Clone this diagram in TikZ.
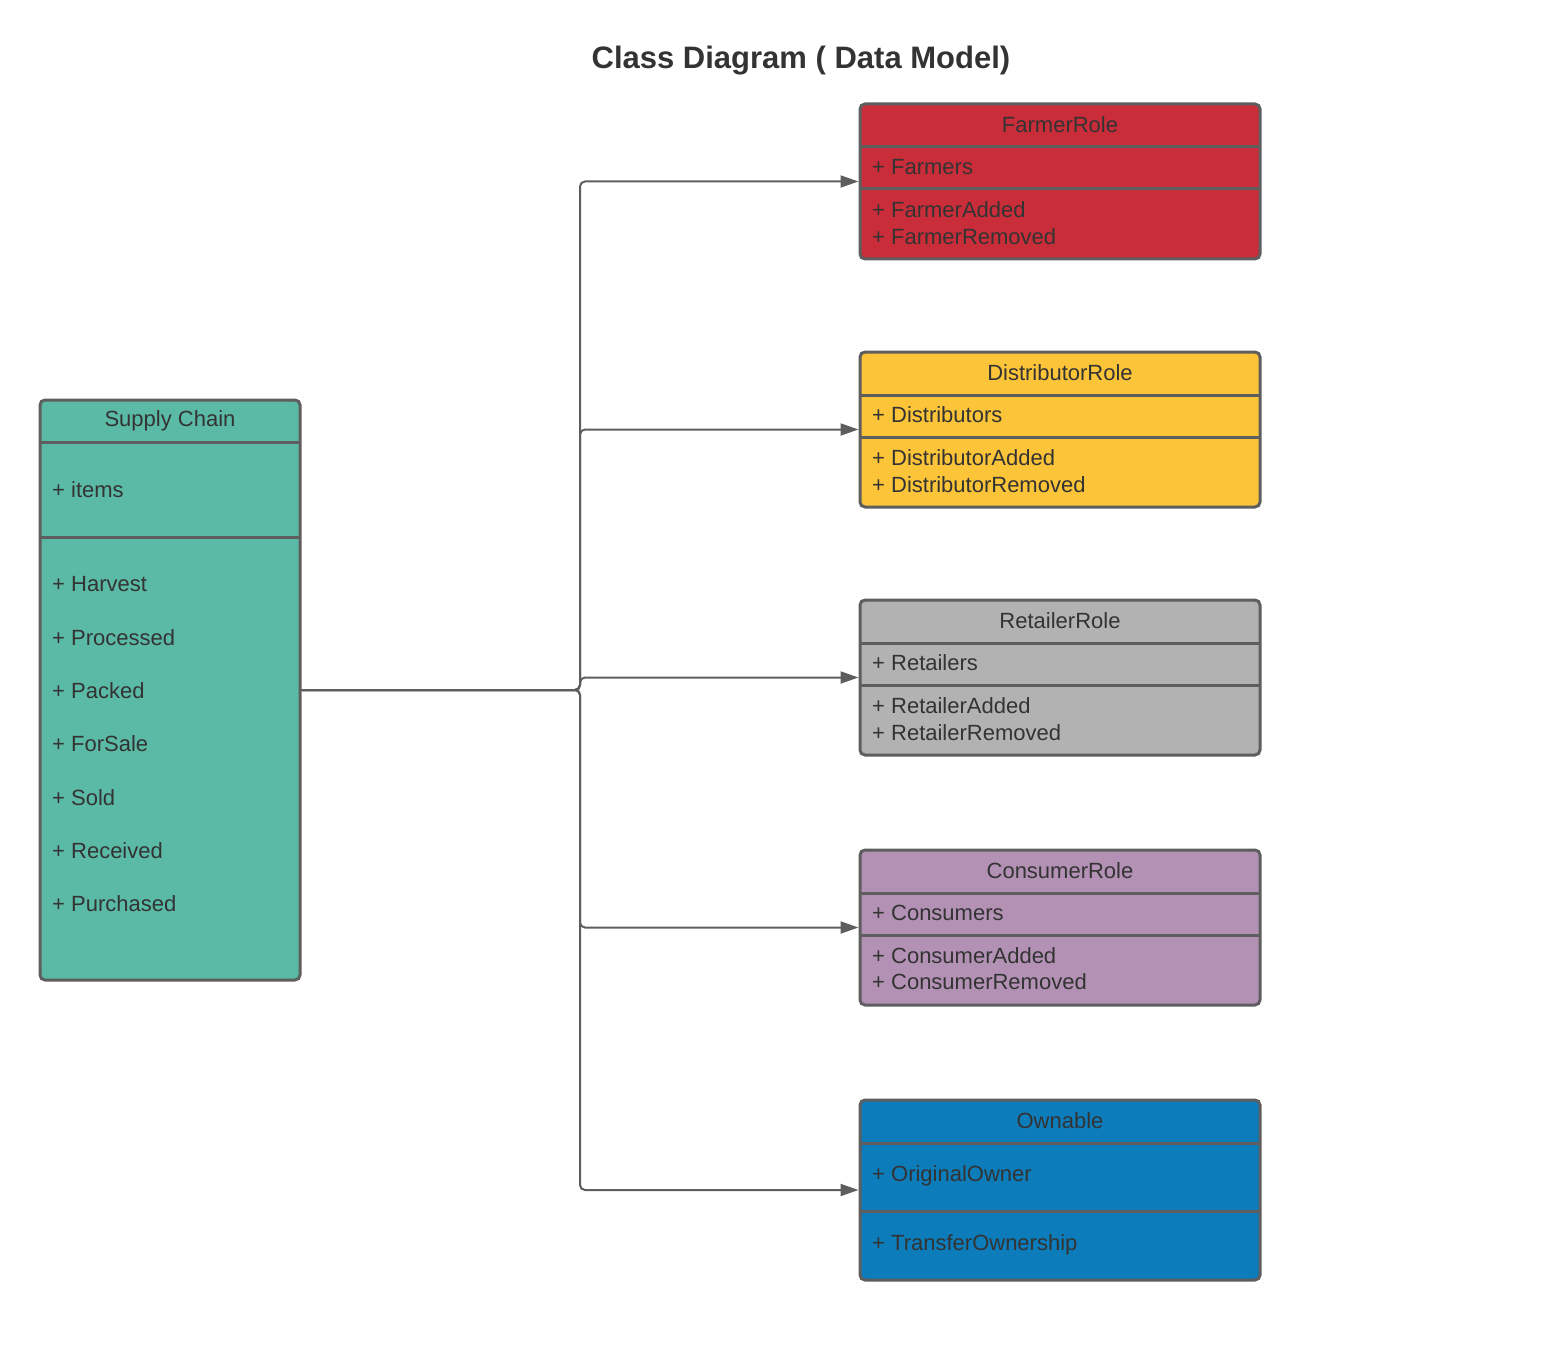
\documentclass[tikz,border=0pt]{standalone}
\usepackage{fontspec}
\setmainfont{Liberation Sans}
\usepackage{tikz}
\usetikzlibrary{arrows.meta}
\usepackage{xcolor}
\definecolor{edgegray}{HTML}{5E5E5E}
\definecolor{textgray}{HTML}{333333}
\definecolor{scteal}{HTML}{5BBAA6}
\definecolor{farmerred}{HTML}{C92D39}
\definecolor{distyellow}{HTML}{FCC438}
\definecolor{retailgray}{HTML}{B2B2B2}
\definecolor{consumerpurple}{HTML}{B391B5}
\definecolor{ownblue}{HTML}{0C7CBA}
\tikzset{
  classbox/.style={draw=edgegray,line width=3pt,rounded corners=5pt,inner sep=0pt},
  divider/.style={edgegray,line width=3pt,shorten <=1.5pt,shorten >=1.5pt},
  attr/.style={anchor=west,inner sep=0pt,text=textgray,yshift=-1.5pt},
  cname/.style={inner sep=0pt,text=textgray,yshift=-1.5pt},
  conn/.style={->,edgegray,line width=2pt,rounded corners=5pt}
}
\begin{document}
\begin{tikzpicture}[x=1pt,y=-1pt,>={Triangle[length=18pt,width=12pt]},font=\fontsize{22}{26}\selectfont]
\useasboundingbox (0,0) rectangle (1551,1351);
\node[text=textgray,font=\fontsize{31}{36}\selectfont\bfseries] (title) at (801,61) {Class Diagram ( Data Model)};
% supply chain
\node[classbox,fill=scteal,minimum width=260pt,minimum height=580pt] (sc) at (170,690) {};
\draw[divider] (sc.west |- 0,442) -- (sc.east |- 0,442);
\draw[divider] (sc.west |- 0,537) -- (sc.east |- 0,537);
\node[cname] (scname) at (170,419) {Supply Chain};
\node[attr] (items) at (52,488) {+ items};
\node[attr] (harvest) at (52,583) {+ Harvest};
\node[attr] (processed) at (52,636) {+ Processed};
\node[attr] (packed) at (52,689) {+ Packed};
\node[attr] (forsale) at (52,742) {+ ForSale};
\node[attr] (sold) at (52,796) {+ Sold};
\node[attr] (received) at (52,849) {+ Received};
\node[attr] (purchased) at (52,902) {+ Purchased};
% farmer
\node[classbox,fill=farmerred,minimum width=400pt,minimum height=155pt] (farmer) at (1060,181.5) {};
\draw[divider] (farmer.west |- 0,147) -- (farmer.east |- 0,147);
\draw[divider] (farmer.west |- 0,189) -- (farmer.east |- 0,189);
\node[cname] (farmername) at (1060,123) {FarmerRole};
\node[attr] (farmers) at (872,166) {+ Farmers};
\node[attr] (farmeradded) at (872,208) {+ FarmerAdded};
\node[attr] (farmerremoved) at (872,235) {+ FarmerRemoved};
% distributor
\node[classbox,fill=distyellow,minimum width=400pt,minimum height=155pt] (distributor) at (1060,429.5) {};
\draw[divider] (distributor.west |- 0,395) -- (distributor.east |- 0,395);
\draw[divider] (distributor.west |- 0,437) -- (distributor.east |- 0,437);
\node[cname] (distname) at (1060,371) {DistributorRole};
\node[attr] (distributors) at (872,413) {+ Distributors};
\node[attr] (distadded) at (872,456) {+ DistributorAdded};
\node[attr] (distremoved) at (872,483) {+ DistributorRemoved};
% retailer
\node[classbox,fill=retailgray,minimum width=400pt,minimum height=155pt] (retailer) at (1060,677.5) {};
\draw[divider] (retailer.west |- 0,643) -- (retailer.east |- 0,643);
\draw[divider] (retailer.west |- 0,685) -- (retailer.east |- 0,685);
\node[cname] (retailname) at (1060,619) {RetailerRole};
\node[attr] (retailers) at (872,661) {+ Retailers};
\node[attr] (retailadded) at (872,704) {+ RetailerAdded};
\node[attr] (retailremoved) at (872,731) {+ RetailerRemoved};
% consumer
\node[classbox,fill=consumerpurple,minimum width=400pt,minimum height=155pt] (consumer) at (1060,927.5) {};
\draw[divider] (consumer.west |- 0,893) -- (consumer.east |- 0,893);
\draw[divider] (consumer.west |- 0,935) -- (consumer.east |- 0,935);
\node[cname] (consname) at (1060,869) {ConsumerRole};
\node[attr] (consumers) at (872,911) {+ Consumers};
\node[attr] (consadded) at (872,954) {+ ConsumerAdded};
\node[attr] (consremoved) at (872,980) {+ ConsumerRemoved};
% ownable
\node[classbox,fill=ownblue,minimum width=400pt,minimum height=180pt] (ownable) at (1060,1190) {};
\draw[divider] (ownable.west |- 0,1143) -- (ownable.east |- 0,1143);
\draw[divider] (ownable.west |- 0,1211) -- (ownable.east |- 0,1211);
\node[cname] (ownname) at (1060,1119) {Ownable};
\node[attr] (origowner) at (872,1174) {+ OriginalOwner};
\node[attr] (transfer) at (872,1243) {+ TransferOwnership};
% connectors
\coordinate (bus) at (580,690);
\foreach \b in {farmer,distributor,retailer,consumer,ownable}
  \draw[conn] (sc.east) -- (bus) |- (\b.west);
\end{tikzpicture}
\end{document}
